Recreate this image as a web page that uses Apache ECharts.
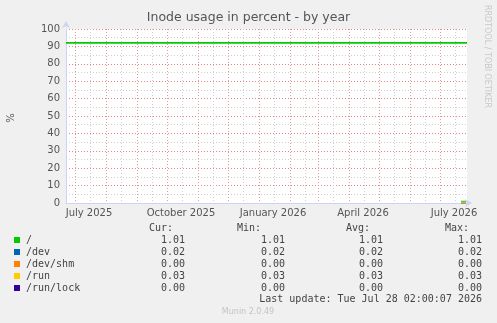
<!DOCTYPE html>
<html><head><meta charset="utf-8">
<script src="https://cdn.jsdelivr.net/npm/echarts@6/dist/echarts.min.js"></script>
<style>html,body{margin:0;padding:0;background:#f0f0f0}#c{width:497px;height:323px}</style>
</head><body><div id="c"></div><script>
const chartTitle = 'Inode usage in percent - by year';
const xRange = ['2025-06-22', '2026-07-28'];
const monthStarts = ['2025-07-01','2025-08-01','2025-09-01','2025-10-01','2025-11-01','2025-12-01','2026-01-01','2026-02-01','2026-03-01','2026-04-01','2026-05-01','2026-06-01','2026-07-01'];
const midMonths = ['2025-07-16','2025-08-16','2025-09-16','2025-10-16','2025-11-16','2025-12-16','2026-01-16','2026-02-16','2026-03-16','2026-04-16','2026-05-16','2026-06-16','2026-07-16'];
const xLabelDates = ['2025-07-15','2025-10-15','2026-01-15','2026-04-15','2026-07-15'];
const xLabelTexts = ['July 2025','October 2025','January 2026','April 2026','July 2026'];
const yMin = 0, yMax = 100, yStep = 10;

const seriesNames = ['/', '/dev', '/dev/shm', '/run', '/run/lock'];
const seriesColors = ['#00cc00', '#0066b3', '#ff8000', '#ffcc00', '#330099'];

// history of "/" over the year
const rootHistTimes = ['2025-06-22', '2026-07-28'];
const rootHistValues = [92, 92];
// most recent samples
const recentTimes = ['2026-07-22', '2026-07-27'];
const rootRecent = [1.01, 1.01];
const devRecent = [0.02, 0.02];
const shmRecent = [0.00, 0.00];
const runRecent = [0.03, 0.03];
const lockRecent = [0.00, 0.00];

const curVals = ['1.01', '0.02', '0.00', '0.03', '0.00'];
const minVals = ['1.01', '0.02', '0.00', '0.03', '0.00'];
const avgVals = ['1.01', '0.02', '0.00', '0.03', '0.00'];
const maxVals = ['1.01', '0.02', '0.00', '0.03', '0.00'];
const lastUpdate = 'Last update: Tue Jul 28 02:00:07 2026';
const version = 'Munin 2.0.49';
const sideText = 'RRDTOOL / TOBI OETIKER';

const ts = d => Date.parse(d);
const zip = (t, v) => t.map((d, i) => [ts(d), v[i]]);

const recentSets = [lockRecent, shmRecent, devRecent, runRecent, rootRecent];
const recentColors = [seriesColors[4], seriesColors[2], seriesColors[1], seriesColors[3], seriesColors[0]];
const recentNames = [seriesNames[4], seriesNames[2], seriesNames[1], seriesNames[3], seriesNames[0]];

const series = [{
  type: 'line', name: seriesNames[0], data: zip(rootHistTimes, rootHistValues),
  showSymbol: false, symbol: 'none', lineStyle: { color: seriesColors[0], width: 1.6 }, z: 5
}];
recentSets.forEach((vals, i) => {
  series.push({
    type: 'line', name: recentNames[i] + ' recent', data: zip(recentTimes, vals),
    showSymbol: false, symbol: 'none', lineStyle: { color: recentColors[i], width: 1.2 }, z: 5 + i
  });
});

const mono = 'DejaVu Sans Mono';
const txtColor = '#444';
const graphics = [];
graphics.push({ type: 'text', left: 'center', top: 11, style: { text: chartTitle, font: '12.5px "DejaVu Sans"', fill: '#555' } });
graphics.push({ type: 'text', x: 6, y: 118, rotation: Math.PI / 2, style: { text: '%', font: '10px "DejaVu Sans"', fill: '#555', textAlign: 'center', textVerticalAlign: 'top' } });
graphics.push({ type: 'text', x: 487, y: 5, rotation: -Math.PI / 2, style: { text: sideText, font: '8px "DejaVu Sans"', fill: '#c8c8c8', textAlign: 'left', textVerticalAlign: 'middle' } });
const colRight = [185, 285, 383, 482];
const headRight = [173, 261, 370, 469];
['Cur:', 'Min:', 'Avg:', 'Max:'].forEach((h, i) => {
  graphics.push({ type: 'text', x: headRight[i], y: 228, style: { text: h, font: '10px "' + mono + '"', fill: txtColor, textAlign: 'right', textVerticalAlign: 'middle' } });
});
const cols = [curVals, minVals, avgVals, maxVals];
seriesNames.forEach((n, r) => {
  const y = 240 + r * 12;
  graphics.push({ type: 'rect', shape: { x: 14, y: y - 3, width: 6, height: 6 }, style: { fill: seriesColors[r] } });
  graphics.push({ type: 'text', x: 26, y: y, style: { text: n, font: '10px "' + mono + '"', fill: txtColor, textAlign: 'left', textVerticalAlign: 'middle' } });
  cols.forEach((c, k) => {
    graphics.push({ type: 'text', x: colRight[k], y: y, style: { text: c[r], font: '10px "' + mono + '"', fill: txtColor, textAlign: 'right', textVerticalAlign: 'middle' } });
  });
});
graphics.push({ type: 'text', x: 482, y: 299, style: { text: lastUpdate, font: '10px "' + mono + '"', fill: txtColor, textAlign: 'right', textVerticalAlign: 'middle' } });
graphics.push({ type: 'text', x: 248, y: 312, style: { text: version, font: '8px "DejaVu Sans"', fill: '#c4c4c4', textAlign: 'center', textVerticalAlign: 'middle' } });

const axisBlue = '#cdd3f2';
const majorColor = '#e49a9a';
const majorColorY = '#e08585';
const minorColor = '#cfcfcf';
const labelTs = xLabelDates.map(ts);
const chart = echarts.init(document.getElementById('c'), null, { renderer: 'canvas' });
chart.setOption({
  animation: false,
  backgroundColor: '#f0f0f0',
  grid: { left: 66, right: 30, top: 29, bottom: 120, show: true, backgroundColor: '#ffffff', borderWidth: 0 },
  xAxis: [{
    type: 'value', min: ts(xRange[0]), max: ts(xRange[1]), position: 'bottom',
    axisLine: { show: true, lineStyle: { color: axisBlue, width: 1 }, symbol: ['none', 'arrow'], symbolSize: [6, 7], symbolOffset: [0, 5] },
    axisTick: { show: false, customValues: monthStarts.map(ts) },
    axisLabel: { show: false },
    splitLine: { show: true, lineStyle: { color: majorColor, type: [1, 2], width: 1 } },
    z: 3
  }, {
    type: 'value', min: ts(xRange[0]), max: ts(xRange[1]), position: 'bottom',
    axisLine: { show: false },
    axisTick: { show: false, customValues: midMonths.map(ts) },
    axisLabel: {
      show: true, customValues: labelTs, margin: 5, color: '#555',
      fontFamily: 'DejaVu Sans', fontSize: 10, hideOverlap: false,
      formatter: v => { const i = labelTs.indexOf(v); return i >= 0 ? xLabelTexts[i] : ''; }
    },
    splitLine: { show: true, lineStyle: { color: minorColor, type: [1, 2], width: 1 } },
    z: 2
  }],
  yAxis: {
    type: 'value', min: yMin, max: yMax, interval: yStep,
    axisLine: { show: true, lineStyle: { color: axisBlue, width: 1 }, symbol: ['none', 'arrow'], symbolSize: [6, 7], symbolOffset: [0, 8] },
    axisTick: { show: false },
    axisLabel: { color: '#555', fontFamily: 'DejaVu Sans', fontSize: 10, margin: 6 },
    splitLine: { show: true, lineStyle: { color: majorColorY, type: [1, 2], width: 1 } },
    minorTick: { show: false, splitNumber: 2 },
    minorSplitLine: { show: true, lineStyle: { color: minorColor, type: [1, 2], width: 1 } }
  },
  series: series,
  graphic: graphics
});
</script></body></html>
